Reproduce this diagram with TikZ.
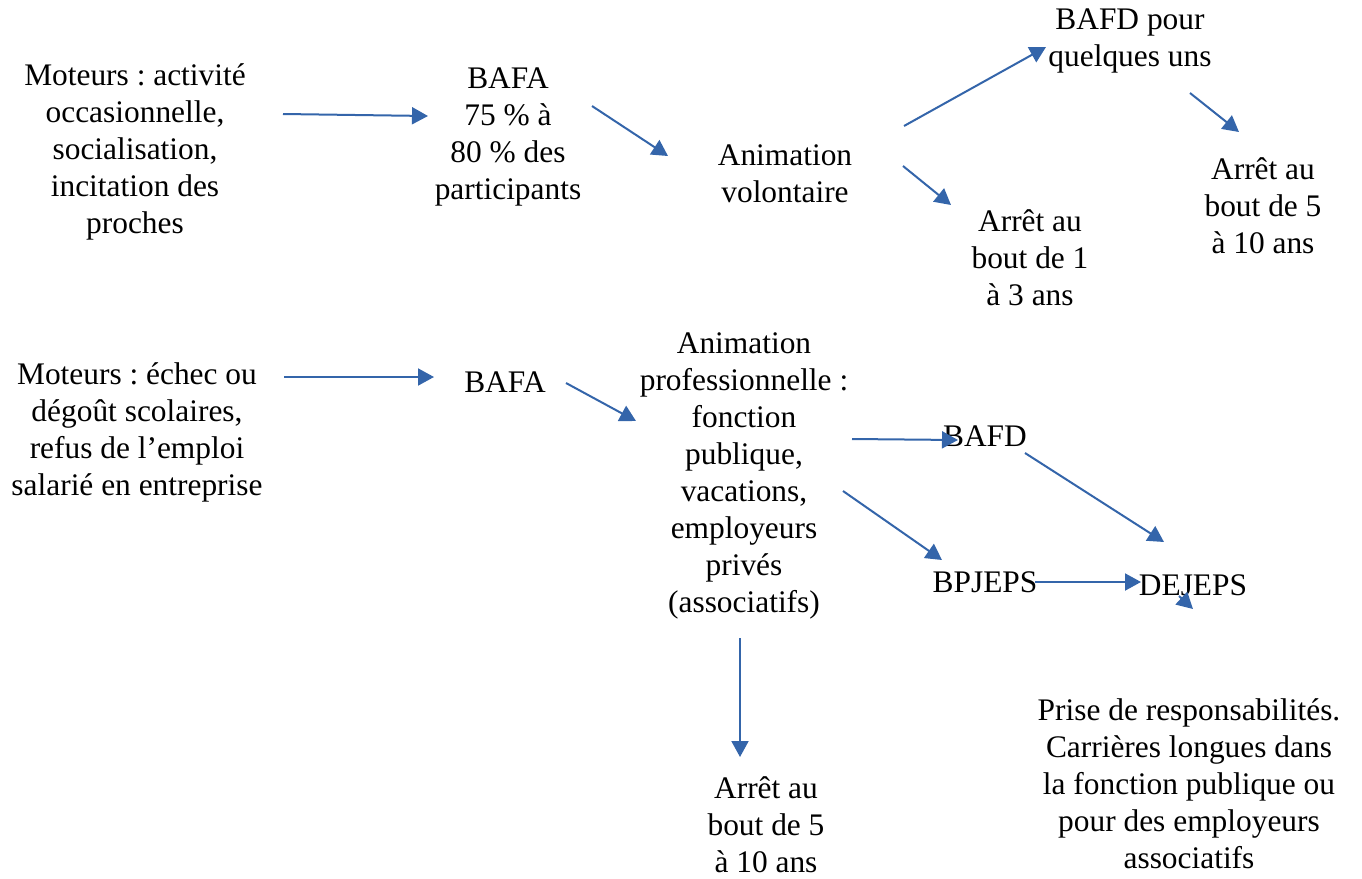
\documentclass[tikz,border=0pt]{standalone}
\usepackage{fontspec}
\setmainfont{Liberation Serif}
\usetikzlibrary{arrows.meta}

\definecolor{flecheblue}{RGB}{52,101,170}
\tikzstyle{line} = [draw=flecheblue, line width=1pt, -{Triangle[length=8pt, width=8.5pt]}]
\tikzstyle{txt} = [align=center, inner sep=0pt, font=\fontsize{15.7}{18.5}\selectfont\frenchspacing]

\begin{document}
\begin{tikzpicture}[x=0.5pt, y=-0.5pt]
\useasboundingbox (0,0) rectangle (1362,879);
% parcours volontaire
\node [txt] (mot1) at (135,152) {Moteurs : activité\\occasionnelle,\\socialisation,\\incitation des\\proches};
\node [txt] (bafa1) at (508,137) {BAFA\\75 \% à\\80 \% des\\participants};
\node [txt] (anivol) at (785,174) {Animation\\volontaire};
\node [txt] (bafdq) at (1130,41) {BAFD pour\\quelques uns};
\node [txt] (arretA) at (1030,258) {Arrêt au\\bout de 1\\à 3 ans};
\node [txt] (arretB) at (1263,206) {Arrêt au\\bout de 5\\à 10 ans};
% parcours professionnel
\node [txt] (mot2) at (137,432) {Moteurs : échec ou\\dégoût scolaires,\\refus de l’emploi\\salarié en entreprise};
\node [txt] (bafa2) at (505,382) {BAFA};
\node [txt] (anipro) at (744,476) {Animation\\professionnelle :\\fonction\\publique,\\vacations,\\employeurs\\privés\\(associatifs)};
\node [txt] (bafd) at (985,436) {BAFD};
\node [txt] (bpjeps) at (985,582) {BPJEPS};
\node [txt] (dejeps) at (1193,585) {DEJEPS};
\node [txt] (arretC) at (766,825) {Arrêt au\\bout de 5\\à 10 ans};
\node [txt] (prise) at (1189,784) {Prise de responsabilités.\\Carrières longues dans\\la fonction publique ou\\pour des employeurs\\associatifs};
%arrows
% volontaire
\path [line] ([shift={(148,-38)}]mot1.center) -- ([shift={(-80,-21)}]bafa1.center);
\path [line] ([shift={(84,-31)}]bafa1.center) -- ([shift={(-117,-18)}]anivol.center);
\path [line] ([shift={(119,-48)}]anivol.center) -- ([shift={(-84,6)}]bafdq.center);
\path [line] ([shift={(118,-8)}]anivol.center) -- ([shift={(-79,-53)}]arretA.center);
\path [line] ([shift={(60,52)}]bafdq.center) -- ([shift={(-24,-74)}]arretB.center);
% professionnel
\path [line] ([shift={(147,-55)}]mot2.center) -- ([shift={(-71,-5)}]bafa2.center);
\path [line] ([shift={(61,1)}]bafa2.center) -- ([shift={(-108,-55)}]anipro.center);
\path [line] ([shift={(108,-37)}]anipro.center) -- ([shift={(-27,4)}]bafd.center);
\path [line] ([shift={(40,17)}]bafd.center) -- ([shift={(-29,-43)}]dejeps.center);
\path [line] ([shift={(99,15)}]anipro.center) -- ([shift={(-43,-22)}]bpjeps.center);
\path [line] ([shift={(50,0)}]bpjeps.center) -- ([shift={(-52,-3)}]dejeps.center);
\path [line] ([shift={(-4,162)}]anipro.center) -- ([shift={(-26,-68)}]arretC.center);
\path [line] ([shift={(-14,11)}]dejeps.center) -- ([shift={(4,-175)}]prise.center);
\end{tikzpicture}
\end{document}
